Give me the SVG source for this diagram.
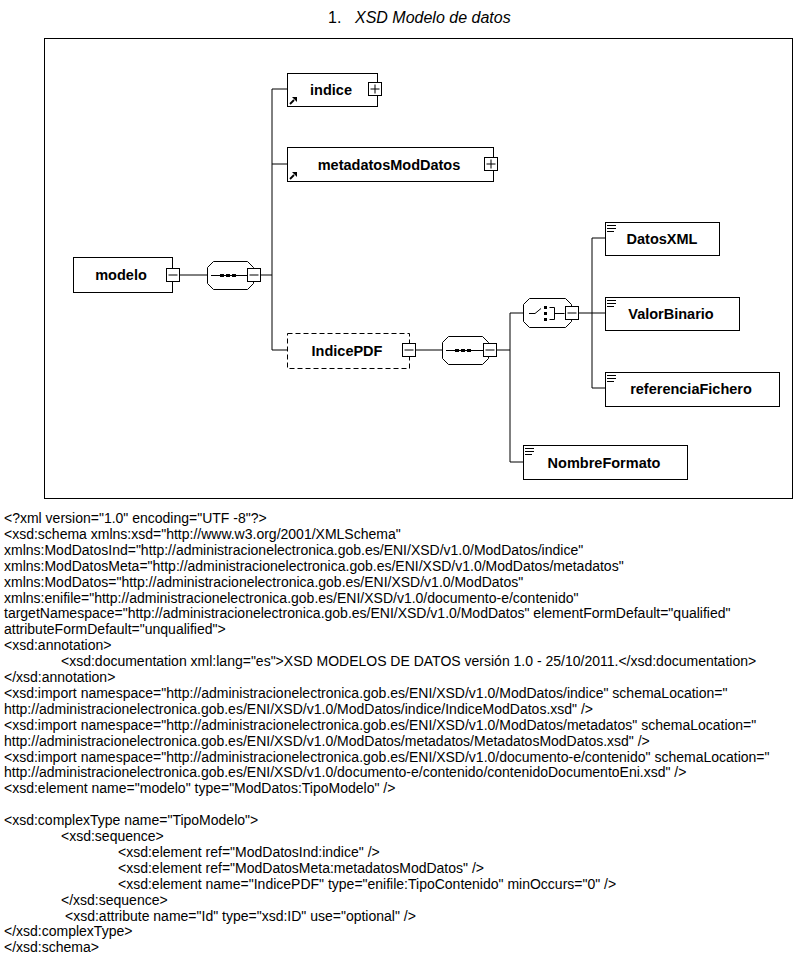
<svg xmlns="http://www.w3.org/2000/svg" width="800" height="960" viewBox="0 0 800 960">
<style>
.bx{fill:#fff;stroke:#000;stroke-width:1}
.dash{fill:#fff;stroke:#000;stroke-width:1;stroke-dasharray:5,3}
.ln{fill:none;stroke:#000;stroke-width:1}
.nm{font-family:"Liberation Sans",Arial,sans-serif;font-size:14.5px;font-weight:bold;fill:#000;text-anchor:middle}
.code{font-family:"Liberation Sans",Arial,sans-serif;font-size:14px;fill:#000}
.ttl{font-family:"Liberation Sans",Arial,sans-serif;font-size:16px;fill:#000}
.dot{fill:#000}
</style>
<defs>
<g id="minus"><rect class="bx" x="0" y="0" width="13" height="13"/><path class="ln" d="M2,6.5 h9"/></g>
<g id="plus"><rect class="bx" x="0" y="0" width="13" height="13"/><path class="ln" d="M2,6.5 h9 M6.5,2 v9"/></g>
<g id="refarrow"><path d="M1,7 L5,3" stroke="#000" stroke-width="1.8"/><polygon points="3,0 8,0 8,5" fill="#000"/></g>
<g id="lines"><path class="ln" d="M0,1.5 h9 M0,4.5 h9 M0,7.5 h7"/></g>
</defs>

<text class="ttl" x="328" y="23">1.</text>
<text class="ttl" x="355" y="23" font-style="italic">XSD Modelo de datos</text>

<rect x="44.5" y="38.5" width="748" height="460" fill="none" stroke="#000" stroke-width="1"/>

<g id="connectors" class="ln">
<path d="M179,275 H207"/>
<path d="M261,275 H272"/>
<path d="M272,89 V350"/>
<path d="M272,89 H287"/>
<path d="M272,164 H287"/>
<path d="M272,350 H287"/>
<path d="M415,350 H442"/>
<path d="M497,350 H510"/>
<path d="M510,313 V462"/>
<path d="M510,313 H523"/>
<path d="M578,313 H592"/>
<path d="M592,238 V388"/>
<path d="M592,238 H605"/>
<path d="M592,313 H605"/>
<path d="M592,388 H605"/>
<path d="M510,462 H523"/>
</g>

<g id="modelo">
<rect class="bx" x="73.5" y="257.5" width="99" height="35"/>
<text class="nm" x="121" y="280">modelo</text>
<use href="#minus" x="166.5" y="268.5"/>
</g>

<g id="sequence1">
<polygon class="bx" points="213.5,261.5 247.5,261.5 253.5,267.5 253.5,283.5 247.5,289.5 213.5,289.5 207.5,283.5 207.5,267.5"/>
<path class="ln" d="M211,275.5 H247"/>
<rect class="dot" x="220" y="274" width="4" height="3"/>
<rect class="dot" x="226" y="274" width="4" height="3"/>
<rect class="dot" x="232" y="274" width="4" height="3"/>
<use href="#minus" x="247.5" y="268.5"/>
</g>

<g id="indice">
<rect class="bx" x="287.5" y="73.5" width="90" height="33"/>
<text class="nm" x="331" y="95">indice</text>
<use href="#plus" x="368.5" y="82.5"/>
<use href="#refarrow" x="289" y="97"/>
</g>

<g id="metadatosModDatos">
<rect class="bx" x="287.5" y="147.5" width="206" height="34"/>
<text class="nm" x="389" y="170">metadatosModDatos</text>
<use href="#plus" x="484.5" y="157.5"/>
<use href="#refarrow" x="289" y="172"/>
</g>

<g id="IndicePDF">
<rect class="dash" x="287.5" y="333.5" width="122" height="35"/>
<text class="nm" x="347" y="356">IndicePDF</text>
<use href="#minus" x="402.5" y="343.5"/>
</g>

<g id="sequence2">
<polygon class="bx" points="448.5,336.5 482.5,336.5 488.5,342.5 488.5,358.5 482.5,364.5 448.5,364.5 442.5,358.5 442.5,342.5"/>
<path class="ln" d="M446,350.5 H483"/>
<rect class="dot" x="455" y="349" width="4" height="3"/>
<rect class="dot" x="461" y="349" width="4" height="3"/>
<rect class="dot" x="467" y="349" width="4" height="3"/>
<use href="#minus" x="483.5" y="343.5"/>
</g>

<g id="choice">
<polygon class="bx" points="529.5,298.5 565.5,298.5 571.5,304.5 571.5,321.5 565.5,327.5 529.5,327.5 523.5,321.5 523.5,304.5"/>
<path class="ln" d="M529,313.5 h6 l6,-5"/>
<rect class="dot" x="544" y="306" width="3" height="3"/>
<rect class="dot" x="544" y="312" width="3" height="3"/>
<rect class="dot" x="544" y="318" width="3" height="3"/>
<path class="ln" d="M549.5,307.5 h5 v12 h-5 M554.5,313.5 h10"/>
<use href="#minus" x="565.5" y="306.5"/>
</g>

<g id="DatosXML">
<rect class="bx" x="605.5" y="222.5" width="114" height="33"/>
<use href="#lines" x="607" y="224"/>
<text class="nm" x="662" y="244">DatosXML</text>
</g>

<g id="ValorBinario">
<rect class="bx" x="605.5" y="297.5" width="134" height="33"/>
<use href="#lines" x="607" y="299"/>
<text class="nm" x="671" y="319">ValorBinario</text>
</g>

<g id="referenciaFichero">
<rect class="bx" x="605.5" y="372.5" width="174" height="34"/>
<use href="#lines" x="607" y="374"/>
<text class="nm" x="691" y="394">referenciaFichero</text>
</g>

<g id="NombreFormato">
<rect class="bx" x="523.5" y="445.5" width="164" height="34"/>
<use href="#lines" x="525" y="447"/>
<text class="nm" x="604" y="468">NombreFormato</text>
</g>

<g id="code" class="code">
<text x="4" y="523">&lt;?xml version="1.0" encoding="UTF -8"?&gt;</text>
<text x="4" y="538.9">&lt;xsd:schema xmlns:xsd="http://www.w3.org/2001/XMLSchema"</text>
<text x="4" y="554.8">xmlns:ModDatosInd="http://administracionelectronica.gob.es/ENI/XSD/v1.0/ModDatos/indice"</text>
<text x="4" y="570.7">xmlns:ModDatosMeta="http://administracionelectronica.gob.es/ENI/XSD/v1.0/ModDatos/metadatos"</text>
<text x="4" y="586.6">xmlns:ModDatos="http://administracionelectronica.gob.es/ENI/XSD/v1.0/ModDatos"</text>
<text x="4" y="602.5">xmlns:enifile="http://administracionelectronica.gob.es/ENI/XSD/v1.0/documento-e/contenido"</text>
<text x="4" y="618.4">targetNamespace="http://administracionelectronica.gob.es/ENI/XSD/v1.0/ModDatos" elementFormDefault="qualified"</text>
<text x="4" y="634.3">attributeFormDefault="unqualified"&gt;</text>
<text x="4" y="650.2">&lt;xsd:annotation&gt;</text>
<text x="61" y="666.1">&lt;xsd:documentation xml:lang="es"&gt;XSD MODELOS DE DATOS versión 1.0 - 25/10/2011.&lt;/xsd:documentation&gt;</text>
<text x="4" y="682">&lt;/xsd:annotation&gt;</text>
<text x="4" y="697.9">&lt;xsd:import namespace="http://administracionelectronica.gob.es/ENI/XSD/v1.0/ModDatos/indice" schemaLocation="</text>
<text x="4" y="713.8">http://administracionelectronica.gob.es/ENI/XSD/v1.0/ModDatos/indice/IndiceModDatos.xsd" /&gt;</text>
<text x="4" y="729.7">&lt;xsd:import namespace="http://administracionelectronica.gob.es/ENI/XSD/v1.0/ModDatos/metadatos" schemaLocation="</text>
<text x="4" y="745.6">http://administracionelectronica.gob.es/ENI/XSD/v1.0/ModDatos/metadatos/MetadatosModDatos.xsd" /&gt;</text>
<text x="4" y="761.5">&lt;xsd:import namespace="http://administracionelectronica.gob.es/ENI/XSD/v1.0/documento-e/contenido" schemaLocation="</text>
<text x="4" y="777.4">http://administracionelectronica.gob.es/ENI/XSD/v1.0/documento-e/contenido/contenidoDocumentoEni.xsd" /&gt;</text>
<text x="4" y="793.3">&lt;xsd:element name="modelo" type="ModDatos:TipoModelo" /&gt;</text>
<text x="4" y="825.1">&lt;xsd:complexType name="TipoModelo"&gt;</text>
<text x="61" y="841">&lt;xsd:sequence&gt;</text>
<text x="118" y="856.9">&lt;xsd:element ref="ModDatosInd:indice" /&gt;</text>
<text x="118" y="872.8">&lt;xsd:element ref="ModDatosMeta:metadatosModDatos" /&gt;</text>
<text x="118" y="888.7">&lt;xsd:element name="IndicePDF" type="enifile:TipoContenido" minOccurs="0" /&gt;</text>
<text x="61" y="904.6">&lt;/xsd:sequence&gt;</text>
<text x="65" y="920.5">&lt;xsd:attribute name="Id" type="xsd:ID" use="optional" /&gt;</text>
<text x="4" y="936.4">&lt;/xsd:complexType&gt;</text>
<text x="4" y="952.3">&lt;/xsd:schema&gt;</text>
</g>
</svg>
